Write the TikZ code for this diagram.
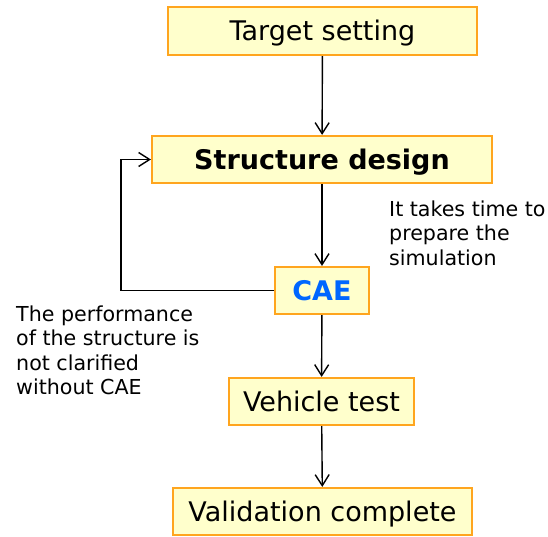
\documentclass[tikz,border=0pt]{standalone}
\usepackage{fontspec}
\setmainfont{DejaVu Sans}
\usetikzlibrary{arrows.meta}
\definecolor{boxorange}{RGB}{255,165,30}
\definecolor{boxfill}{RGB}{255,255,204}
\definecolor{caeblue}{RGB}{0,102,255}
\tikzset{
  flowbox/.style={draw=boxorange, fill=boxfill, line width=2.2pt, inner sep=0pt,
    font=\fontsize{27}{30}\selectfont, text=black, text height=19.7pt, text depth=0pt},
  flowarrow/.style={line width=1.4pt, -{Straight Barb[length=11pt,width=14pt,line width=1.4pt]}},
  note/.style={inner sep=0pt, align=left, anchor=north west, font=\fontsize{20.6}{24.5}\selectfont}
}
\begin{document}
\begin{tikzpicture}[x=1pt,y=-1pt]
\useasboundingbox (0,0) rectangle (548,536);
\node[flowbox, minimum width=309pt, minimum height=48pt] (target) at (322.5,31) {Target setting};
\node[flowbox, minimum width=340pt, minimum height=47pt] (design) at (322,159.5) {\textbf{Structure design}};
\node[flowbox, minimum width=94pt, minimum height=47pt] (cae) at (322,290.5) {\textcolor{caeblue}{\textbf{CAE}}};
\node[flowbox, minimum width=185pt, minimum height=47pt] (vehicle) at (321.5,401.5) {Vehicle test};
\node[flowbox, minimum width=299pt, minimum height=47pt] (valid) at (322.5,511.5) {Validation complete};
\node[note] (note1) at (389,200.5) {It takes time to\\prepare the\\simulation};
\node[note] (note2) at (16,305.5) {The performance\\of the structure is\\not clarified\\without CAE};
\coordinate (fbbottom) at (121,290.5);
\coordinate (fbtop) at (121,159.5);
\draw[flowarrow] (target) -- (design);
\draw[flowarrow] (design) -- (cae);
\draw[flowarrow] (cae) -- (vehicle);
\draw[flowarrow] (vehicle) -- (valid);
\draw[flowarrow] (cae.west) -- (fbbottom) -- (fbtop) -- (design.west);
\end{tikzpicture}
\end{document}
